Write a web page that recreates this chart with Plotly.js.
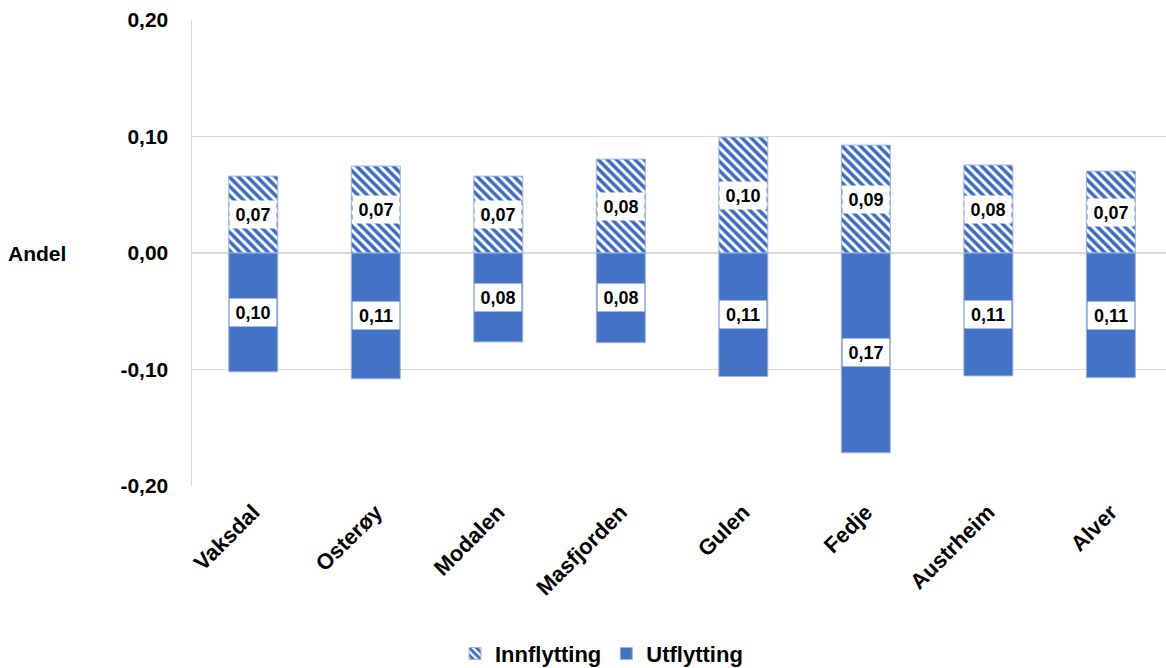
<!DOCTYPE html>
<html>
<head>
<meta charset="utf-8">
<script src="https://cdn.plot.ly/plotly-3.0.1.min.js"></script>
<style>html,body{margin:0;padding:0;background:#fff;}#chart{width:1166px;height:668px;}</style>
</head>
<body>
<div id="chart"></div>
<script>
const categories = ["Vaksdal", "Osterøy", "Modalen", "Masfjorden", "Gulen", "Fedje", "Austrheim", "Alver"];
const innflytting = [0.066, 0.0746, 0.066, 0.0806, 0.0995, 0.0926, 0.0755, 0.0703];
const utflytting = [0.102, 0.108, 0.0763, 0.077, 0.106, 0.1715, 0.1055, 0.107];
const yTickVals = [0.2, 0.1, 0, -0.1, -0.2];
const yTickText = ["0,20", "0,10", "0,00", "-0,10", "-0,20"];

const FONT = "Liberation Sans, Arial, sans-serif";
const blue = "#4472C4";
const edge = "#9DB5E0";

const traces = [
  {
    type: "bar", name: "Innflytting", x: categories, y: innflytting,
    width: 0.4,
    marker: { color: "#ffffff", line: { color: edge, width: 1 },
      pattern: { shape: "\\", fgcolor: "#3F6CC0", bgcolor: "#ffffff", fgopacity: 1, size: 6.5, solidity: 0.55, fillmode: "replace" } },
    hoverinfo: "skip"
  },
  {
    type: "bar", name: "Utflytting", x: categories, y: utflytting.map(v => -v),
    width: 0.4,
    marker: { color: blue, line: { color: edge, width: 1 } },
    hoverinfo: "skip"
  }
];

const fmt = v => (Math.round(v * 100) / 100).toFixed(2).replace(".", ",");
const annotations = [];
categories.forEach((c, i) => {
  annotations.push({ x: c, y: innflytting[i] / 2, xref: "x", yref: "y", text: fmt(innflytting[i]),
    showarrow: false, bgcolor: "#ffffff", width: 44, height: 25,
    font: { family: FONT, size: 18, color: "#000", weight: "bold" } });
  annotations.push({ x: c, y: -utflytting[i] / 2, xref: "x", yref: "y", text: fmt(utflytting[i]),
    showarrow: false, bgcolor: "#ffffff", width: 44, height: 25,
    font: { family: FONT, size: 18, color: "#000", weight: "bold" } });
});
annotations.push({ xref: "paper", yref: "y", x: -0.191, y: 0, xanchor: "left", yanchor: "middle",
  text: "Andel", showarrow: false, font: { family: FONT, size: 21, color: "#000", weight: "bold" } });

const layout = {
  width: 1166, height: 668,
  margin: { l: 192, r: 0, t: 20, b: 182, autoexpand: false },
  paper_bgcolor: "#ffffff", plot_bgcolor: "#ffffff",
  barmode: "relative",
  showlegend: true,
  legend: { orientation: "h", x: 0.27, xanchor: "left", y: -0.36, yanchor: "middle",
    font: { family: FONT, size: 22, color: "#000", weight: "bold" }, itemwidth: 30, traceorder: "normal" },
  xaxis: { type: "category", range: [-0.5, 7.45], tickangle: -45, showgrid: false, showline: false, zeroline: false,
    automargin: false, ticks: "", ticklabelstandoff: 8,
    tickfont: { family: FONT, size: 22, color: "#000", weight: "bold" }, fixedrange: true },
  yaxis: { range: [-0.2, 0.2], tickvals: yTickVals, ticktext: yTickText, showgrid: true, gridcolor: "#D9D9D9", gridwidth: 1.5,
    zeroline: true, zerolinecolor: "#D9D9D9", zerolinewidth: 1.5, showline: true, linecolor: "#D9D9D9", linewidth: 1.5,
    automargin: false, ticks: "", ticklabelstandoff: 18,
    tickfont: { family: FONT, size: 21, color: "#000", weight: "bold" }, fixedrange: true },
  annotations: annotations
};

Plotly.newPlot("chart", traces, layout, { displayModeBar: false, staticPlot: true });
</script>
</body>
</html>
